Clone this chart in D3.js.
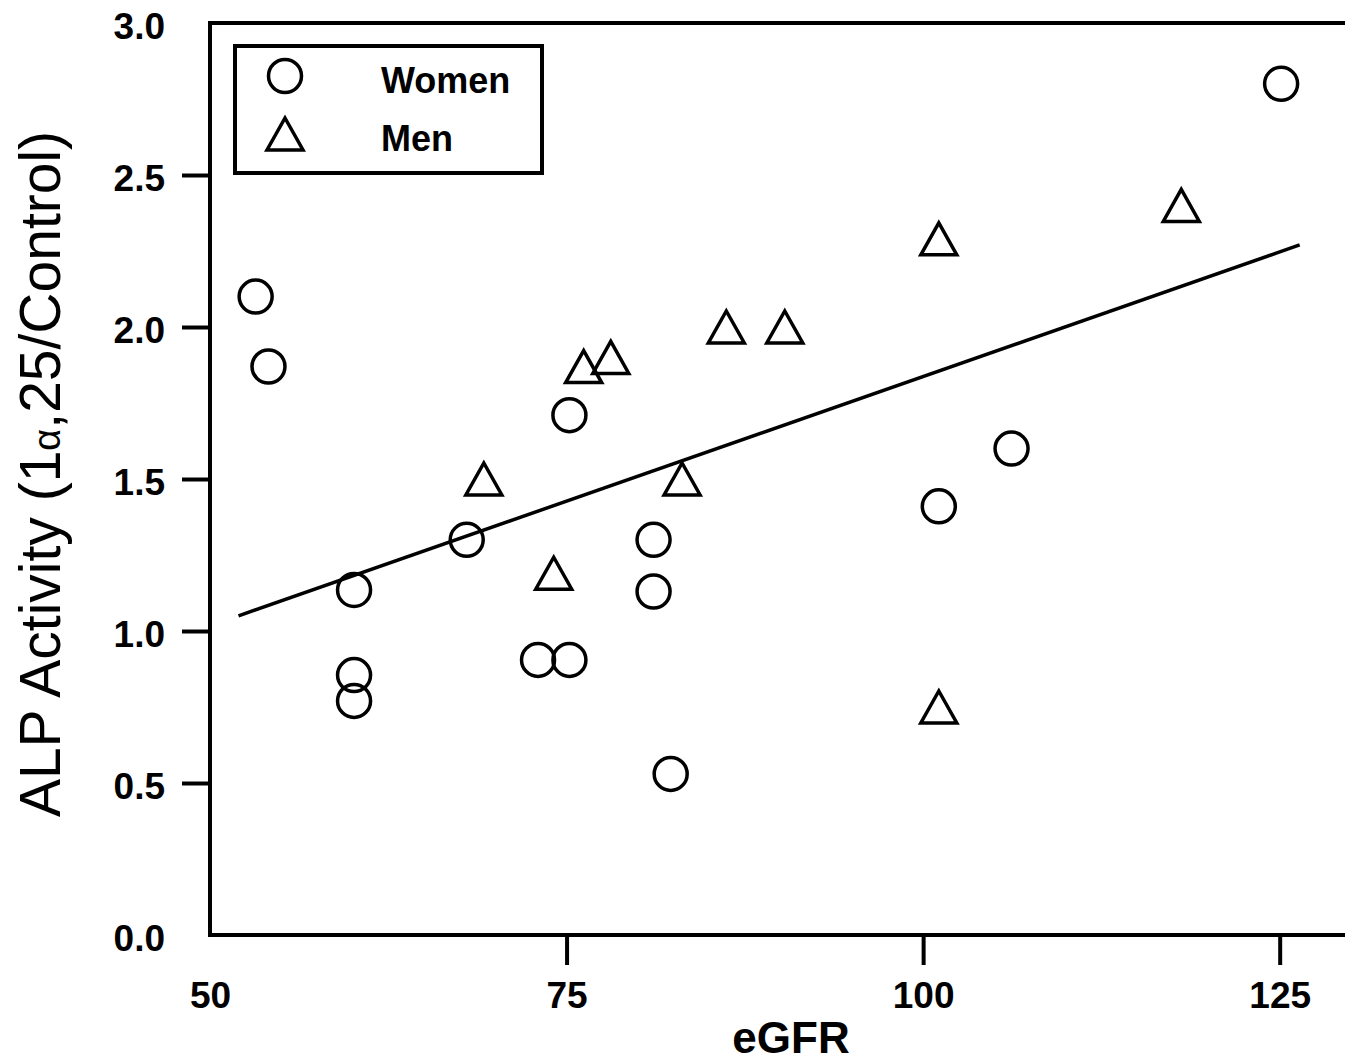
<!DOCTYPE html>
<html>
<head>
<meta charset="utf-8">
<script src="https://cdn.jsdelivr.net/npm/d3@7"></script>
<style>
  body { margin: 0; background: #fff; }
  svg { display: block; }
</style>
</head>
<body>
<svg id="chart"></svg>
<script>
// Women (circles)
const womenEGFR = [53.2, 54.1, 60.1, 60.1, 60.1, 68.0, 73.0, 75.2, 75.2, 81.1, 81.1, 82.3, 101.1, 106.2, 125.1];
const womenALP  = [2.10, 1.87, 1.135, 0.855, 0.77, 1.30, 0.905, 0.905, 1.71, 1.30, 1.13, 0.53, 1.41, 1.60, 2.80];

// Men (triangles)
const menEGFR = [69.2, 74.1, 76.2, 78.1, 83.1, 86.2, 90.3, 101.1, 101.1, 118.1];
const menALP  = [1.50, 1.19, 1.87, 1.90, 1.50, 2.00, 2.00, 2.29, 0.75, 2.40];

// regression line end points
const fitEGFR = [52, 126.4];
const fitALP  = [1.05, 2.27];

const xTicks = [50, 75, 100, 125];
const yTicks = [0, 0.5, 1.0, 1.5, 2.0, 2.5, 3.0];

const W = 1345, H = 1063;
const svg = d3.select("#chart").attr("width", W).attr("height", H);

const x = d3.scaleLinear().domain([50, 130]).range([210, 1351]);
const y = d3.scaleLinear().domain([0, 3]).range([935, 23]);

const women = womenEGFR.map((v, i) => ({x: v, y: womenALP[i]}));
const men = menEGFR.map((v, i) => ({x: v, y: menALP[i]}));

// frame (right side falls outside the picture)
svg.append("rect")
    .attr("x", x(50)).attr("y", y(3))
    .attr("width", x(130) - x(50)).attr("height", y(0) - y(3))
    .attr("fill", "none").attr("stroke", "#000").attr("stroke-width", 4);

// axes
const xAxis = svg.append("g")
    .attr("transform", `translate(0,${y(0)})`)
    .call(d3.axisBottom(x).tickValues(xTicks).tickSize(30).tickPadding(17).tickFormat(d3.format("d")));
const yAxis = svg.append("g")
    .attr("transform", `translate(${x(50)},0)`)
    .call(d3.axisLeft(y).tickValues(yTicks).tickSize(28).tickPadding(17).tickFormat(d3.format(".1f")));

[xAxis, yAxis].forEach(g => {
    g.select(".domain").remove();
    g.selectAll(".tick line").attr("stroke", "#000").attr("stroke-width", 4);
    g.selectAll(".tick text")
        .attr("fill", "#000")
        .style("font-family", "'Liberation Sans', Arial, sans-serif")
        .style("font-weight", "bold")
        .style("font-size", "37px");
});
// no tick marks at the frame corners
xAxis.selectAll(".tick").filter(d => d === 50).select("line").remove();
yAxis.selectAll(".tick").filter(d => d === 0 || d === 3).select("line").remove();
yAxis.selectAll(".tick text").attr("dy", "0.42em");

// regression line
svg.append("line")
    .attr("x1", x(fitEGFR[0])).attr("y1", y(fitALP[0]))
    .attr("x2", x(fitEGFR[1])).attr("y2", y(fitALP[1]))
    .attr("stroke", "#000").attr("stroke-width", 3.5);

const triPath = "M0,-16L18,16L-18,16Z";

svg.append("g").selectAll("circle")
    .data(women)
    .join("circle")
    .attr("cx", d => x(d.x))
    .attr("cy", d => y(d.y))
    .attr("r", 16.5)
    .attr("fill", "none")
    .attr("stroke", "#000")
    .attr("stroke-width", 3.5);

svg.append("g").selectAll("path")
    .data(men)
    .join("path")
    .attr("transform", d => `translate(${x(d.x)},${y(d.y)})`)
    .attr("d", triPath)
    .attr("fill", "none")
    .attr("stroke", "#000")
    .attr("stroke-width", 3.5)
    .attr("stroke-linejoin", "miter");

// legend
const legend = svg.append("g");
legend.append("rect")
    .attr("x", 235).attr("y", 46).attr("width", 307).attr("height", 127)
    .attr("fill", "#fff").attr("stroke", "#000").attr("stroke-width", 4);
legend.append("circle")
    .attr("cx", 285).attr("cy", 76).attr("r", 16.5)
    .attr("fill", "none").attr("stroke", "#000").attr("stroke-width", 3.5);
legend.append("path")
    .attr("transform", "translate(285,134)")
    .attr("d", triPath)
    .attr("fill", "none").attr("stroke", "#000").attr("stroke-width", 3.5);
const legendText = [["Women", 93], ["Men", 151]];
legend.selectAll("text")
    .data(legendText)
    .join("text")
    .attr("x", 381).attr("y", d => d[1])
    .style("font-family", "'Liberation Sans', Arial, sans-serif")
    .style("font-weight", "bold")
    .style("font-size", "36px")
    .text(d => d[0]);

// axis titles
svg.append("text")
    .attr("x", 791).attr("y", 1053)
    .attr("text-anchor", "middle")
    .style("font-family", "'Liberation Sans', Arial, sans-serif")
    .style("font-weight", "bold")
    .style("font-size", "44px")
    .text("eGFR");

const yTitle = svg.append("text")
    .attr("transform", "rotate(-90)")
    .attr("x", -474).attr("y", 60)
    .attr("text-anchor", "middle")
    .style("font-family", "'Liberation Sans', Arial, sans-serif")
    .style("font-size", "57px");
yTitle.append("tspan").text("ALP Activity (1");
yTitle.append("tspan").style("font-size", "38px").text("α");
yTitle.append("tspan").text(",25/Control)");
</script>
</body>
</html>
